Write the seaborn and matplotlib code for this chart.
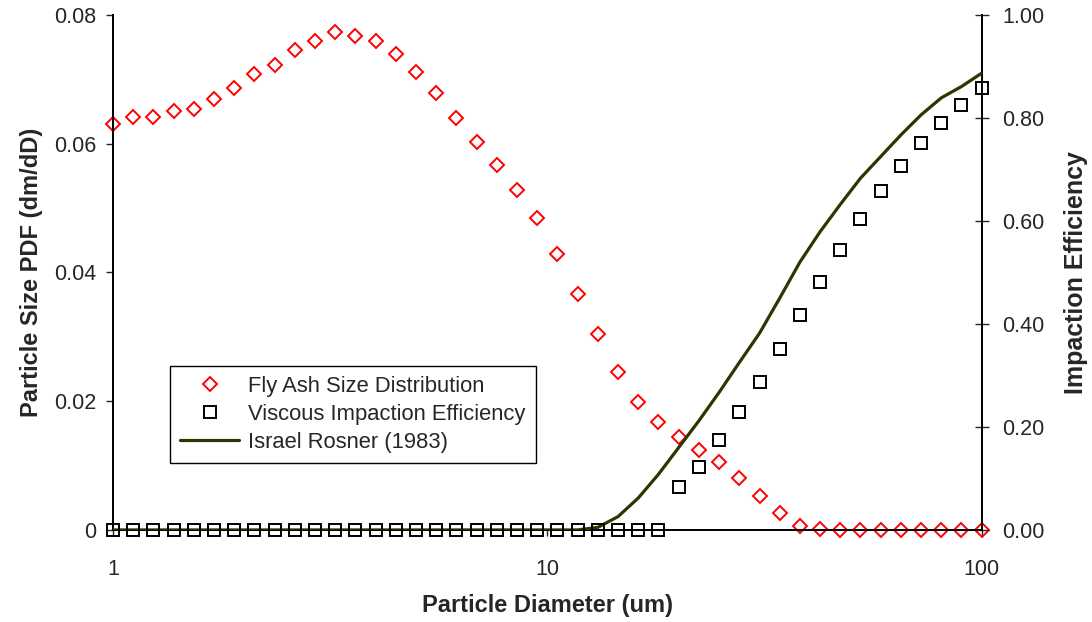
import numpy as np
import pandas as pd
import matplotlib
matplotlib.use("Agg")
import matplotlib.pyplot as plt
from matplotlib.lines import Line2D
import seaborn as sns

diameter = [1.000, 1.113, 1.239, 1.379, 1.535, 1.709, 1.902, 2.117, 2.356, 2.622,
            2.919, 3.249, 3.616, 4.025, 4.480, 4.986, 5.550, 6.177, 6.875, 7.652,
            8.517, 9.479, 10.55, 11.74, 13.07, 14.55, 16.19, 18.02, 20.06, 22.33,
            24.85, 27.66, 30.79, 34.27, 38.14, 42.45, 47.25, 52.59, 58.54, 65.16,
            72.52, 80.72, 89.84, 100.0]

fly_ash_pdf = [0.0630, 0.0641, 0.0642, 0.0651, 0.0654, 0.0670, 0.0687, 0.0709, 0.0722, 0.0745,
               0.0760, 0.0774, 0.0767, 0.0760, 0.0740, 0.0712, 0.0678, 0.0640, 0.0603, 0.0567,
               0.0528, 0.0484, 0.0428, 0.0367, 0.0305, 0.0245, 0.0199, 0.0168, 0.0144, 0.0124,
               0.0105, 0.0080, 0.0052, 0.0027, 0.0006, 0.0002, 0.0, 0.0, 0.0, 0.0,
               0.0, 0.0, 0.0, 0.0]

viscous_eff = [0.0] * 28 + [0.083, 0.122, 0.174, 0.229, 0.288, 0.352, 0.418, 0.482,
                            0.544, 0.603, 0.659, 0.707, 0.752, 0.791, 0.825, 0.858]

rosner_eff = [0.0] * 24 + [0.005, 0.026, 0.062, 0.108, 0.160, 0.212, 0.267, 0.325,
                           0.382, 0.450, 0.520, 0.579, 0.632, 0.683, 0.725, 0.767,
                           0.806, 0.839, 0.861, 0.887]

left_ticks = [0.0, 0.02, 0.04, 0.06, 0.08]
left_ticklabels = ["0", "0.02", "0.04", "0.06", "0.08"]
right_ticks = [0.0, 0.2, 0.4, 0.6, 0.8, 1.0]
right_ticklabels = ["0.00", "0.20", "0.40", "0.60", "0.80", "1.00"]
x_ticks = [1, 10, 100]
x_ticklabels = ["1", "10", "100"]

sns.set_style("white")
plt.rcParams['font.family'] = ['Liberation Sans', 'DejaVu Sans']

df = pd.DataFrame({"d": diameter, "pdf": fly_ash_pdf, "visc": viscous_eff, "ros": rosner_eff})

fig = plt.figure(figsize=(10.92, 6.22), dpi=100)
ax = fig.add_axes([0.1035, 0.148, 0.7955, 0.828])
ax2 = ax.twinx()

line_col = "#333300"
sns.lineplot(data=df, x="d", y="ros", ax=ax2, color=line_col, linewidth=2.3, zorder=3, legend=False)
ax2.plot(df["d"], df["visc"], linestyle="none", marker="s", markersize=9, markerfacecolor="none",
         markeredgecolor="black", markeredgewidth=1.4, zorder=4, clip_on=False)
ax.plot(df["d"], df["pdf"], linestyle="none", marker="D", markersize=7.3, markerfacecolor="none",
        markeredgecolor="#ff0000", markeredgewidth=1.4, zorder=5, clip_on=False)

for a in (ax, ax2):
    a.set_xscale("log")
    a.set_xlim(1, 100)

ax.set_ylim(0, 0.08)
ax2.set_ylim(0, 1.0)
ax.set_yticks(left_ticks)
ax.set_yticklabels(left_ticklabels)
ax2.set_yticks(right_ticks)
ax2.set_yticklabels(right_ticklabels)
ax.set_xticks(x_ticks)
ax.set_xticklabels(x_ticklabels)
ax.xaxis.set_minor_locator(matplotlib.ticker.NullLocator())

ax.tick_params(axis="y", which="major", direction="out", length=5, width=1, pad=7, labelsize=15.5, left=True)
ax.tick_params(axis="x", which="major", direction="out", length=4, width=1, pad=17, labelsize=15.5, bottom=True)
ax2.tick_params(axis="y", which="major", direction="inout", length=10, width=1, pad=10, labelsize=15.5, right=True)

for s in ("top",):
    ax.spines[s].set_visible(False)
    ax2.spines[s].set_visible(False)
for a in (ax, ax2):
    for s in ("left", "right", "bottom"):
        a.spines[s].set_color("black")
        a.spines[s].set_linewidth(1.3)

ax.set_xlabel("Particle Diameter (um)", fontsize=17, fontweight="bold", labelpad=10)
ax.set_ylabel("Particle Size PDF (dm/dD)", fontsize=17, fontweight="bold", labelpad=8)
ax2.set_ylabel("Impaction Efficiency", fontsize=18, fontweight="bold", labelpad=14)

handles = [
    Line2D([], [], linestyle="none", marker="D", markersize=7.3, markerfacecolor="none",
           markeredgecolor="#ff0000", markeredgewidth=1.4),
    Line2D([], [], linestyle="none", marker="s", markersize=9, markerfacecolor="none",
           markeredgecolor="black", markeredgewidth=1.4),
    Line2D([], [], color=line_col, linewidth=2.3),
]
labels = ["Fly Ash Size Distribution", "Viscous Impaction Efficiency", "Israel Rosner (1983)"]
leg = ax2.legend(handles, labels, loc="lower left", bbox_to_anchor=(0.066, 0.13),
                 fontsize=15.8, frameon=True, fancybox=False, edgecolor="black",
                 framealpha=1, borderpad=0.45, labelspacing=0.32, handlelength=2.7,
                 handletextpad=0.4, borderaxespad=0)
leg.get_frame().set_linewidth(1.0)

fig.savefig("out.png", dpi=100)
